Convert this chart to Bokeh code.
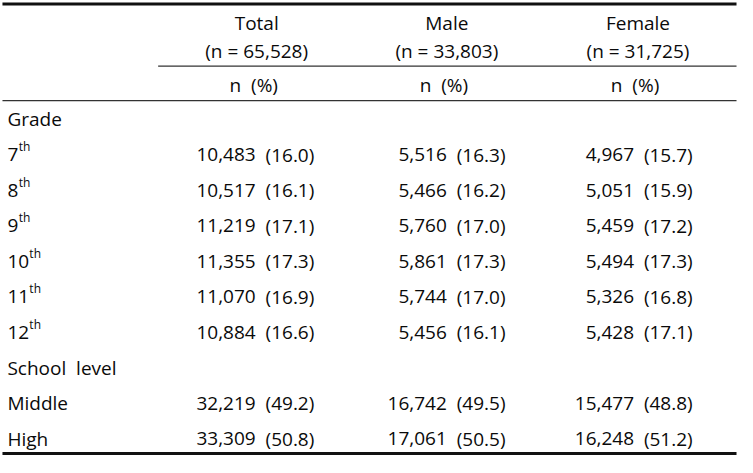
from bokeh.plotting import figure
from bokeh.models import Range1d, ColumnDataSource
from bokeh.embed import file_html
from bokeh.resources import INLINE
from bokeh.core.properties import value

# ---- data ----
groups = ["Total", "Male", "Female"]
group_n = ["65,528", "33,803", "31,725"]
grades = ["7", "8", "9", "10", "11", "12"]
total_n = [10483, 10517, 11219, 11355, 11070, 10884]
total_pct = [16.0, 16.1, 17.1, 17.3, 16.9, 16.6]
male_n = [5516, 5466, 5760, 5861, 5744, 5456]
male_pct = [16.3, 16.2, 17.0, 17.3, 17.0, 16.1]
female_n = [4967, 5051, 5459, 5494, 5326, 5428]
female_pct = [15.7, 15.9, 17.2, 17.3, 16.8, 17.1]
levels = ["Middle", "High"]
level_total_n = [32219, 33309]
level_total_pct = [49.2, 50.8]
level_male_n = [16742, 17061]
level_male_pct = [49.5, 50.5]
level_female_n = [15477, 16248]
level_female_pct = [48.8, 51.2]

# ---- layout ----
FONT = value("Open Sans")
FS = "19px"
SUP = "12px"
COLOR = "#0a0a0a"
NBSP = "\u00a0"
col_center = [263, 456, 650]
pct_x = [272, 466, 656]
num_gap = 10
label_x = 10
row_y0 = 123
row_step = 36.2

p = figure(width=737, height=457, x_range=Range1d(3, 751), y_range=Range1d(468, 2),
           output_backend="svg", toolbar_location=None, min_border=0)
p.axis.visible = False
p.grid.visible = False
p.outline_line_color = None
p.background_fill_color = "white"
p.border_fill_color = "white"

# rules
p.segment(x0=[5, 5], y0=[5.5, 464], x1=[750, 750], y1=[5.5, 464], line_width=3, line_color="#111111")
p.segment(x0=[163, 5], y0=[69, 104], x1=[750, 750], y1=[69, 104], line_width=1.2, line_color="#333333")

def txt(xs, ys, texts, align="left", size=FS):
    src = ColumnDataSource(dict(x=xs, y=ys, t=texts))
    p.text(x="x", y="y", text="t", source=src, text_align=align, text_baseline="middle",
           text_font=FONT, text_font_size=size, text_color=COLOR)

# headers
txt(col_center, [25] * 3, groups, "center")
txt(col_center, [53] * 3, ["(n = %s)" % n for n in group_n], "center")
txt([c - 3 for c in col_center], [88] * 3, ["n" + NBSP + NBSP + "(%)"] * 3, "center")

rows_y = [row_y0 + i * row_step for i in range(10)]

# row labels
txt([label_x] * 4, [rows_y[0], rows_y[7], rows_y[8], rows_y[9]],
    ["Grade", "School" + NBSP + NBSP + "level"] + levels)
gy = rows_y[1:7]
txt([label_x] * 6, gy, grades)
digit_w = 10.9
txt([label_x + len(g) * digit_w + 0.5 for g in grades], [y - 8 for y in gy], ["th"] * 6, "left", SUP)

series = [
    (total_n + level_total_n, total_pct + level_total_pct),
    (male_n + level_male_n, male_pct + level_male_pct),
    (female_n + level_female_n, female_pct + level_female_pct),
]
data_y = gy + rows_y[8:10]
for ci, (ns, ps) in enumerate(series):
    txt([pct_x[ci] - num_gap] * len(ns), data_y, ["{:,}".format(n) for n in ns], "right")
    txt([pct_x[ci]] * len(ps), data_y, ["(%.1f)" % v for v in ps], "left")

open("out.html", "w").write(file_html(p, INLINE))
